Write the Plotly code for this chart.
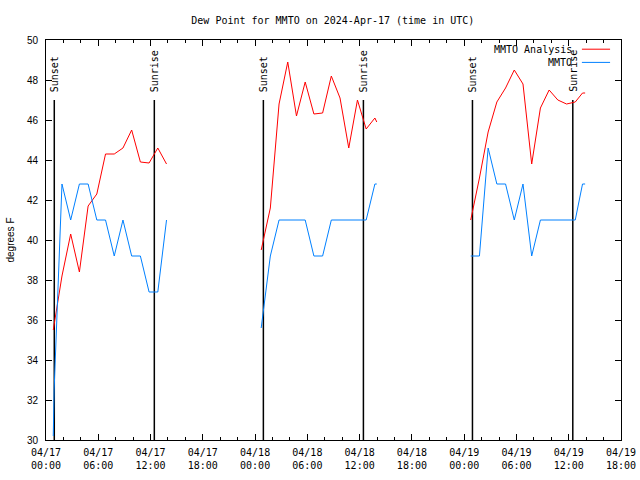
import plotly.graph_objects as go

# ---------------- data ----------------
days = ["2024-04-17", "2024-04-18", "2024-04-19"]

# MMTO Analysis (red)
ana_t1 = ["00:50", "01:50", "02:50", "03:50", "04:50", "05:50", "06:50", "07:50",
          "08:50", "09:50", "10:50", "11:50", "12:50", "13:50"]
ana_v1 = [35.5, 38.2, 40.3, 38.4, 41.7, 42.3, 44.3, 44.3, 44.6, 45.5, 43.9, 43.85, 44.6, 43.8]

ana_t2 = ["00:42", "01:45", "02:45", "03:45", "04:45", "05:45", "06:45", "07:45",
          "08:45", "09:45", "10:45", "11:45", "12:45", "13:45", "13:58"]
ana_v2 = [39.5, 41.6, 46.8, 48.9, 46.2, 47.9, 46.3, 46.35, 48.2, 47.1, 44.6, 47.0, 45.55, 46.1, 45.9]

ana_t3 = ["00:45", "01:45", "02:45", "03:45", "04:45", "05:45", "06:45", "07:45",
          "08:45", "09:45", "10:45", "11:45", "12:45", "13:35", "13:53"]
ana_v3 = [41.0, 43.1, 45.4, 46.9, 47.6, 48.5, 47.8, 43.8, 46.6, 47.5, 47.0, 46.8, 46.9, 47.35, 47.35]

# MMTO observed (blue)
obs_t1 = ["00:50", "00:56", "01:50", "02:50", "03:50", "04:50", "05:50", "06:50", "07:50",
          "08:50", "09:50", "10:50", "11:50", "12:50", "13:50"]
obs_v1 = [30.2, 32.5, 42.8, 41.0, 42.8, 42.8, 41.0, 41.0, 39.2, 41.0, 39.2, 39.2, 37.4, 37.4, 41.0]

obs_t2 = ana_t2
obs_v2 = [35.6, 39.2, 41.0, 41.0, 41.0, 41.0, 39.2, 39.2, 41.0, 41.0, 41.0, 41.0, 41.0, 42.8, 42.8]

obs_t3 = ana_t3
obs_v3 = [39.2, 39.2, 44.6, 42.8, 42.8, 41.0, 42.8, 39.2, 41.0, 41.0, 41.0, 41.0, 41.0, 42.8, 42.8]

# Sun events
sun_times = ["2024-04-17 00:57", "2024-04-17 12:26", "2024-04-18 00:57",
             "2024-04-18 12:26", "2024-04-19 00:57", "2024-04-19 12:28"]
sun_labels = ["Sunset", "Sunrise", "Sunset", "Sunrise", "Sunset", "Sunrise"]
sun_line_low, sun_line_high = 30, 47

series_names = ["MMTO Analysis", "MMTO"]
series_colors = ["#ff0000", "#0080ff"]

x_range = ["2024-04-17 00:00", "2024-04-19 18:00"]
y_range = [30, 50]

# ---------------- build ----------------
def join(segs):
    xs, ys = [], []
    for d, ts, vs in segs:
        if xs:
            xs.append(None)
            ys.append(None)
        xs += [f"{d} {t}" for t in ts]
        ys += list(vs)
    return xs, ys

ax, ay = join([(days[0], ana_t1, ana_v1), (days[1], ana_t2, ana_v2), (days[2], ana_t3, ana_v3)])
ox, oy = join([(days[0], obs_t1, obs_v1), (days[1], obs_t2, obs_v2), (days[2], obs_t3, obs_v3)])

MONO = "DejaVu Sans Mono"
SANS = "Liberation Sans"

fig = go.Figure()

sx, sy = [], []
for t in sun_times:
    sx += [t, t, None]
    sy += [sun_line_low, sun_line_high, None]
fig.add_trace(go.Scatter(x=sx, y=sy, mode="lines", line=dict(color="black", width=1.5),
                         showlegend=False, hoverinfo="skip"))

fig.add_trace(go.Scatter(x=ax, y=ay, mode="lines", name=series_names[0],
                         line=dict(color=series_colors[0], width=1), connectgaps=False,
                         showlegend=False))
fig.add_trace(go.Scatter(x=ox, y=oy, mode="lines", name=series_names[1],
                         line=dict(color=series_colors[1], width=1), connectgaps=False,
                         showlegend=False))

for t, lab in zip(sun_times, sun_labels):
    fig.add_annotation(x=t, y=sun_line_high, xref="x", yref="y", text=lab, textangle=-90,
                       showarrow=False, xanchor="center", yanchor="bottom", yshift=6,
                       font=dict(family=MONO, size=10, color="black"))

# gnuplot-style key: text, then line sample
key_y = [0.977, 0.944]
for name, col, ky in zip(series_names, series_colors, key_y):
    fig.add_annotation(x=0.918, y=ky, xref="paper", yref="paper", text=name, showarrow=False,
                       xanchor="right", yanchor="middle",
                       font=dict(family=MONO, size=10, color="black"))
    fig.add_shape(type="line", xref="paper", yref="paper", x0=0.932, x1=0.981, y0=ky, y1=ky,
                  line=dict(color=col, width=1))

H6 = 6 * 3600 * 1000
H2 = 2 * 3600 * 1000
fig.update_layout(
    width=640, height=480,
    margin=dict(l=46, r=19, t=40, b=40, autoexpand=False),
    paper_bgcolor="white", plot_bgcolor="white",
    title=dict(text="Dew Point for MMTO on 2024-Apr-17 (time in UTC)", x=0.520, xanchor="center",
               y=0.958, yanchor="middle", font=dict(family=MONO, size=10, color="black")),
    showlegend=False,
    xaxis=dict(type="date", range=x_range, tick0="2024-04-17 00:00", dtick=H6,
               tickformat="%m/%d<br>%H:%M", ticks="inside", ticklen=6, tickcolor="black",
               mirror="allticks", showline=True, linecolor="black", linewidth=1,
               showgrid=False, zeroline=False, automargin=False, ticklabelstandoff=3,
               tickfont=dict(family=MONO, size=10, color="black"),
               minor=dict(dtick=H2, ticks="inside", ticklen=3, tickcolor="black", showgrid=False)),
    yaxis=dict(range=y_range, dtick=2, ticks="inside", ticklen=6, tickcolor="black",
               mirror="allticks", showline=True, linecolor="black", linewidth=1,
               showgrid=False, zeroline=False, automargin=False, ticklabelstandoff=5,
               tickfont=dict(family=SANS, size=10, color="black"),
               title=dict(text="degrees F", standoff=10, font=dict(family=SANS, size=10, color="black"))),
)

fig.write_html("out.html", config={"displayModeBar": False},
               post_script="document.body.style.margin='0';document.body.style.overflow='hidden';")
